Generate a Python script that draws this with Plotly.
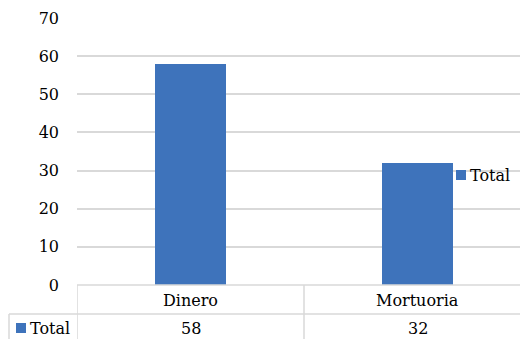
import plotly.graph_objects as go

categories = ["Dinero", "Mortuoria"]
values = [58, 32]
series_name = "Total"
y_ticks = [0, 10, 20, 30, 40, 50, 60, 70]

W, H = 520, 339
L, R, T, B = 77, 0, 18, 54
plot_h = H - T - B
BAR = "#3E73BB"
GRID = "#D9D9D9"
FONT = "DejaVu Serif"
TXT = "#000000"

def py(pix):
    # pixel y (from top) -> paper y
    return (H - B - pix) / plot_h

def px(pix):
    return (pix - L) / (W - L - R)

fig = go.Figure()
fig.add_trace(go.Bar(x=categories, y=values, name=series_name,
                     marker=dict(color=BAR, line=dict(width=0)),
                     width=0.313, showlegend=False))

shapes = []
line = dict(color=GRID, width=1.5)
# table horizontal lines
shapes.append(dict(type="line", xref="paper", yref="paper", x0=0, x1=1, y0=0, y1=0, line=line, layer="above"))
shapes.append(dict(type="line", xref="paper", yref="paper", x0=px(9), x1=1, y0=py(314), y1=py(314), line=line))
# vertical lines
shapes.append(dict(type="line", xref="paper", yref="paper", x0=px(9), x1=px(9), y0=py(314), y1=py(345), line=line))
for b in [-0.5, 0.5]:
    shapes.append(dict(type="line", xref="x", yref="paper", x0=b, x1=b, y0=0, y1=py(345), line=line))
# legend marker in table
shapes.append(dict(type="rect", xref="paper", yref="paper", x0=px(16), x1=px(26), y0=py(333), y1=py(323),
                   fillcolor=BAR, line=dict(width=0)))
# side legend marker
shapes.append(dict(type="rect", xref="paper", yref="paper", x0=px(456), x1=px(466), y0=py(180), y1=py(170),
                   fillcolor=BAR, line=dict(width=0)))

annotations = []
f = dict(family=FONT, size=16, color=TXT)
for c, v in zip(categories, values):
    annotations.append(dict(x=c, y=py(300), xref="x", yref="paper", text=c, showarrow=False,
                            font=f, xanchor="center", yanchor="middle"))
    annotations.append(dict(x=c, y=py(328), xref="x", yref="paper", text=str(v), showarrow=False,
                            font=f, xanchor="center", yanchor="middle"))
annotations.append(dict(x=px(29), y=py(328), xref="paper", yref="paper", text=series_name, showarrow=False,
                        font=f, xanchor="left", yanchor="middle"))
annotations.append(dict(x=px(469), y=py(175.5), xref="paper", yref="paper", text=series_name, showarrow=False,
                        font=f, xanchor="left", yanchor="middle"))
for a in annotations:
    a.setdefault("borderpad", 0)

fig.update_layout(
    width=W, height=H,
    margin=dict(l=L, r=R, t=T, b=B, pad=0),
    paper_bgcolor="white", plot_bgcolor="white",
    shapes=shapes, annotations=annotations,
    xaxis=dict(range=[-0.5, -0.5 + (W - L - R) / 227.0], showticklabels=False, showgrid=False,
               zeroline=False, showline=False, ticks=""),
    yaxis=dict(range=[0, 70], tickvals=y_ticks, showgrid=True, gridcolor=GRID, gridwidth=1.5,
               zeroline=False, showline=False, ticks="", ticklabelstandoff=17,
               tickfont=dict(family=FONT, size=16, color=TXT)),
    bargap=0,
)

fig.write_html("out.html")
